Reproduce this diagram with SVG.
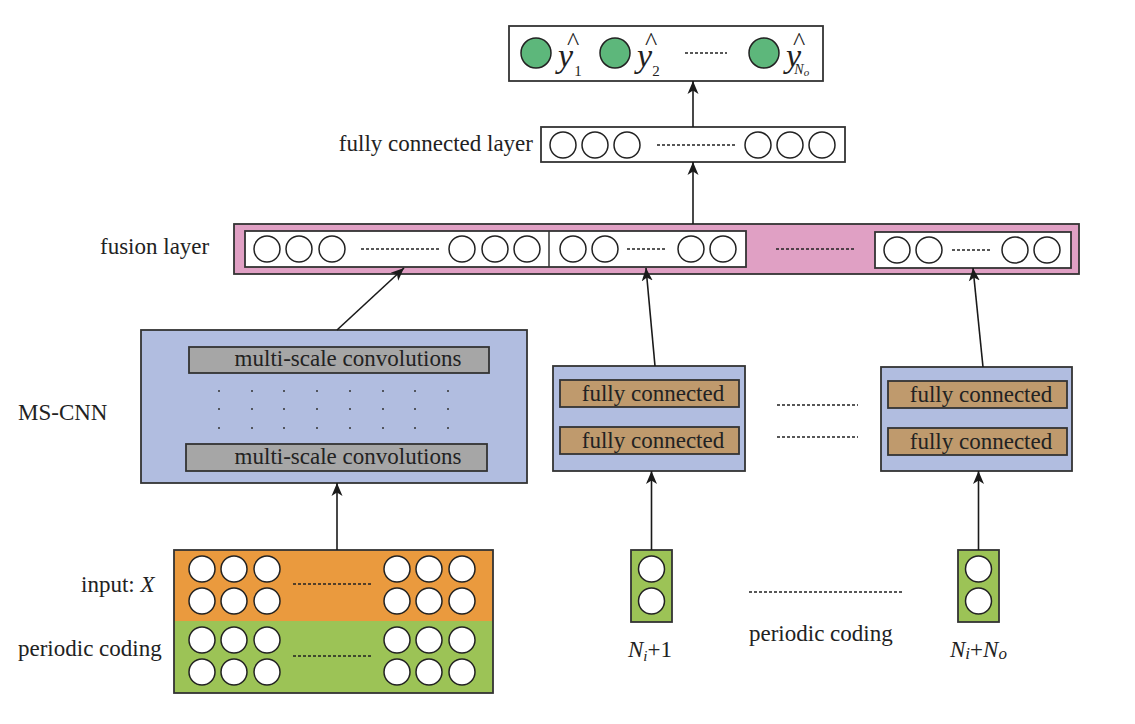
<svg xmlns="http://www.w3.org/2000/svg" width="1135" height="724" viewBox="0 0 1135 724">
<defs>
<marker id="arr" markerUnits="userSpaceOnUse" markerWidth="14" markerHeight="12" refX="13" refY="6" orient="auto">
<path d="M0,0.5 L13,6 L0,11.5 L3.5,6 Z" fill="#1a1a1a"/>
</marker>
<style>
.t{font-family:"Liberation Serif","Times New Roman",serif;font-size:23px;fill:#222;}
.box{stroke:#333;stroke-width:1.8;}
.c{fill:#fff;stroke:#222;stroke-width:1.5;}
.g{fill:#5db77b;stroke:#222;stroke-width:1.5;}
.d{stroke:#222;stroke-width:1.3;stroke-dasharray:3 2;fill:none;}
.ln{stroke:#1a1a1a;stroke-width:1.6;fill:none;marker-end:url(#arr);}
.dot{fill:#333;}
.yh{font-style:italic;font-size:34px;}
.hat{font-style:normal;font-size:26px;}
.sub{font-style:normal;font-size:15px;}
</style>
</defs>
<rect width="1135" height="724" fill="#fff"/>

<g id="output">
<rect class="box" x="509" y="26" width="314" height="55" fill="#fff"/>
<circle class="g" cx="536" cy="53" r="15"/>
<circle class="g" cx="615" cy="53" r="15"/>
<circle class="g" cx="764" cy="53" r="15"/>
<line class="d" x1="685" y1="53" x2="727" y2="53"/>
<text class="t yh" x="558" y="67">y<tspan class="hat" dx="-6" dy="-17">^</tspan><tspan class="sub" dx="-5" dy="26">1</tspan></text>
<text class="t yh" x="637" y="67">y<tspan class="hat" dx="-7" dy="-17">^</tspan><tspan class="sub" dx="-5" dy="26">2</tspan></text>
<text class="t yh" x="786" y="67">y<tspan class="hat" dx="-8" dy="-17">^</tspan><tspan class="sub" style="font-style:italic;font-size:14px" dx="-11" dy="24">N<tspan dy="2" style="font-size:11px">o</tspan></tspan></text>
</g>

<g id="fc-layer">
<text class="t" x="533" y="151" text-anchor="end">fully connected layer</text>
<rect class="box" x="541" y="127" width="304" height="35" fill="#fff"/>
<circle class="c" cx="563" cy="145" r="13"/>
<circle class="c" cx="595" cy="145" r="13"/>
<circle class="c" cx="627" cy="145" r="13"/>
<line class="d" x1="657" y1="145" x2="735" y2="145"/>
<circle class="c" cx="758" cy="145" r="13"/>
<circle class="c" cx="790" cy="145" r="13"/>
<circle class="c" cx="822" cy="145" r="13"/>
</g>

<g id="fusion-layer">
<text class="t" x="100" y="254">fusion layer</text>
<rect class="box" x="234" y="224" width="845" height="50" fill="#e0a0c4"/>
<rect class="box" x="245" y="231" width="501" height="36" fill="#fff"/>
<line x1="549" y1="231" x2="549" y2="267" stroke="#333" stroke-width="1.5"/>
<circle class="c" cx="267" cy="249" r="13"/>
<circle class="c" cx="299" cy="249" r="13"/>
<circle class="c" cx="332" cy="249" r="13"/>
<line class="d" x1="361" y1="249" x2="441" y2="249"/>
<circle class="c" cx="462" cy="249" r="13"/>
<circle class="c" cx="495" cy="249" r="13"/>
<circle class="c" cx="527" cy="249" r="13"/>
<circle class="c" cx="573" cy="249" r="13"/>
<circle class="c" cx="605" cy="249" r="13"/>
<line class="d" x1="627" y1="249" x2="667" y2="249"/>
<circle class="c" cx="691" cy="249" r="13"/>
<circle class="c" cx="723" cy="249" r="13"/>
<line class="d" x1="776" y1="249" x2="856" y2="249"/>
<rect class="box" x="875" y="232" width="196" height="36" fill="#fff"/>
<circle class="c" cx="897" cy="250" r="13"/>
<circle class="c" cx="929" cy="250" r="13"/>
<line class="d" x1="952" y1="250" x2="991" y2="250"/>
<circle class="c" cx="1015" cy="250" r="13"/>
<circle class="c" cx="1047" cy="250" r="13"/>
</g>

<g id="ms-cnn">
<text class="t" x="18" y="420">MS-CNN</text>
<rect class="box" x="141" y="330" width="386" height="153" fill="#b1bde0"/>
<rect class="box" x="189" y="347" width="300" height="26" fill="#a6a6a6"/>
<text class="t" x="348" y="366" text-anchor="middle">multi-scale convolutions</text>
<rect class="box" x="186" y="444" width="301" height="27" fill="#a6a6a6"/>
<text class="t" x="348" y="464" text-anchor="middle">multi-scale convolutions</text>
<g class="dot">
<circle cx="219" cy="391" r="1"/><circle cx="252" cy="391" r="1"/><circle cx="284" cy="391" r="1"/><circle cx="317" cy="391" r="1"/><circle cx="350" cy="391" r="1"/><circle cx="383" cy="391" r="1"/><circle cx="415" cy="391" r="1"/><circle cx="448" cy="391" r="1"/>
<circle cx="219" cy="409" r="1"/><circle cx="252" cy="409" r="1"/><circle cx="284" cy="409" r="1"/><circle cx="317" cy="409" r="1"/><circle cx="350" cy="409" r="1"/><circle cx="383" cy="409" r="1"/><circle cx="415" cy="409" r="1"/><circle cx="448" cy="409" r="1"/>
<circle cx="219" cy="428" r="1"/><circle cx="252" cy="428" r="1"/><circle cx="284" cy="428" r="1"/><circle cx="317" cy="428" r="1"/><circle cx="350" cy="428" r="1"/><circle cx="383" cy="428" r="1"/><circle cx="415" cy="428" r="1"/><circle cx="448" cy="428" r="1"/>
</g>
</g>

<g id="fc-branch-1">
<rect class="box" x="553" y="366" width="192" height="105" fill="#b1bde0"/>
<rect class="box" x="560" y="380" width="179" height="27" fill="#bf9a6d"/>
<text class="t" x="653" y="401" text-anchor="middle">fully connected</text>
<rect class="box" x="560" y="427" width="179" height="27" fill="#bf9a6d"/>
<text class="t" x="653" y="448" text-anchor="middle">fully connected</text>
</g>

<g id="fc-dots">
<line class="d" x1="777" y1="405" x2="858" y2="405"/>
<line class="d" x1="777" y1="437" x2="858" y2="437"/>
</g>

<g id="fc-branch-n">
<rect class="box" x="881" y="367" width="191" height="104" fill="#b1bde0"/>
<rect class="box" x="888" y="381" width="179" height="27" fill="#bf9a6d"/>
<text class="t" x="981" y="402" text-anchor="middle">fully connected</text>
<rect class="box" x="888" y="428" width="179" height="27" fill="#bf9a6d"/>
<text class="t" x="981" y="449" text-anchor="middle">fully connected</text>
</g>

<g id="input">
<text class="t" x="81" y="592">input: <tspan style="font-style:italic">X</tspan></text>
<text class="t" x="18" y="656">periodic coding</text>
<rect x="174" y="550" width="319" height="71" fill="#ea9a3e"/>
<rect x="174" y="621" width="319" height="72" fill="#9cc356"/>
<rect class="box" x="174" y="550" width="319" height="143" fill="none"/>
<circle class="c" cx="202" cy="569" r="13"/><circle class="c" cx="234" cy="569" r="13"/><circle class="c" cx="267" cy="569" r="13"/>
<circle class="c" cx="397" cy="569" r="13"/><circle class="c" cx="429" cy="569" r="13"/><circle class="c" cx="462" cy="569" r="13"/>
<circle class="c" cx="202" cy="601" r="13"/><circle class="c" cx="234" cy="601" r="13"/><circle class="c" cx="267" cy="601" r="13"/>
<circle class="c" cx="397" cy="601" r="13"/><circle class="c" cx="429" cy="601" r="13"/><circle class="c" cx="462" cy="601" r="13"/>
<line class="d" x1="293" y1="584" x2="372" y2="584"/>
<circle class="c" cx="202" cy="640" r="13"/><circle class="c" cx="234" cy="640" r="13"/><circle class="c" cx="267" cy="640" r="13"/>
<circle class="c" cx="397" cy="640" r="13"/><circle class="c" cx="429" cy="640" r="13"/><circle class="c" cx="462" cy="640" r="13"/>
<circle class="c" cx="202" cy="672" r="13"/><circle class="c" cx="234" cy="672" r="13"/><circle class="c" cx="267" cy="672" r="13"/>
<circle class="c" cx="397" cy="672" r="13"/><circle class="c" cx="429" cy="672" r="13"/><circle class="c" cx="462" cy="672" r="13"/>
<line class="d" x1="293" y1="656" x2="372" y2="656"/>
</g>

<g id="coding-1">
<rect class="box" x="631" y="550" width="41" height="72" fill="#9cc356"/>
<circle class="c" cx="651.5" cy="569" r="13"/>
<circle class="c" cx="651.5" cy="601" r="13"/>
<text class="t" x="628" y="657"><tspan style="font-style:italic">N</tspan><tspan dy="4" style="font-style:italic;font-size:15px">i</tspan><tspan dy="-4">+1</tspan></text>
</g>

<g id="coding-dots">
<line class="d" x1="749" y1="592" x2="903" y2="592"/>
<text class="t" x="749" y="641">periodic coding</text>
</g>

<g id="coding-n">
<rect class="box" x="958" y="550" width="41" height="72" fill="#9cc356"/>
<circle class="c" cx="978.5" cy="569" r="13"/>
<circle class="c" cx="978.5" cy="601" r="13"/>
<text class="t" x="950" y="657"><tspan style="font-style:italic">N</tspan><tspan dy="2" style="font-style:italic;font-size:17px">i</tspan><tspan dy="-2">+</tspan><tspan style="font-style:italic">N</tspan><tspan dy="2" style="font-style:italic;font-size:17px">o</tspan></text>
</g>

<g id="connectors">
<line class="ln" x1="693" y1="127" x2="693" y2="81"/>
<line class="ln" x1="693" y1="224" x2="693" y2="162"/>
<line class="ln" x1="337" y1="330" x2="404" y2="268"/>
<line class="ln" x1="655" y1="366" x2="646" y2="268"/>
<line class="ln" x1="983" y1="367" x2="973" y2="268"/>
<line class="ln" x1="337" y1="550" x2="337" y2="483"/>
<line class="ln" x1="651.5" y1="550" x2="651.5" y2="471"/>
<line class="ln" x1="978.5" y1="550" x2="978.5" y2="471"/>
</g>
</svg>
